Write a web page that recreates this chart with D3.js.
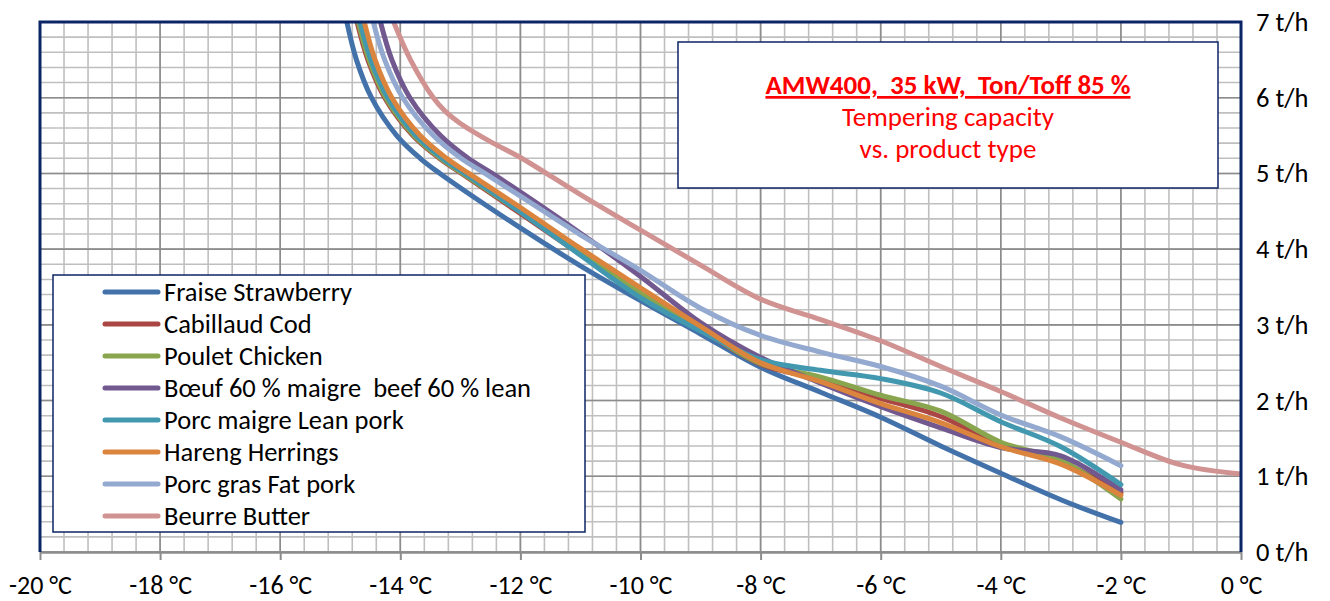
<!DOCTYPE html>
<html>
<head>
<meta charset="utf-8">
<script src="https://cdn.jsdelivr.net/npm/d3@7"></script>
<style>
  body { margin: 0; background: #fff; }
  svg { display: block; font-family: Carlito, Lato, sans-serif; }
  text { white-space: pre; }
</style>
</head>
<body>
<svg></svg>
<script>
// data: [temperature °C, capacity t/h]
var seriesNames = ["Fraise Strawberry", "Cabillaud Cod", "Poulet Chicken",
  "Bœuf 60 % maigre  beef 60 % lean", "Porc maigre Lean pork", "Hareng Herrings",
  "Porc gras Fat pork", "Beurre Butter"];
var seriesColors = ["#4372AA", "#AA4643", "#89A54E", "#71588F", "#4198AF", "#DB843D", "#93A9CF", "#D19392"];

var strawberry = [[-14.89, 7.0], [-14.73, 6.5], [-14.48, 6.0], [-14.06, 5.5], [-13.67, 5.2], [-13.34, 5.0],
  [-12, 4.28], [-11, 3.78], [-10, 3.32], [-9, 2.88], [-8, 2.44], [-7, 2.11], [-6, 1.78],
  [-5, 1.40], [-4, 1.04], [-3, 0.69], [-2, 0.39]];
var cod = [[-14.72, 7.0], [-14.54, 6.5], [-14.26, 6.0], [-13.79, 5.5], [-13.35, 5.2], [-12.98, 5.0],
  [-12, 4.47], [-11, 3.93], [-10, 3.40], [-9, 2.94], [-8, 2.48], [-7, 2.28], [-6, 2.03],
  [-5, 1.79], [-4, 1.41], [-3, 1.19], [-2, 0.78]];
var chicken = [[-14.70, 7.0], [-14.52, 6.5], [-14.24, 6.0], [-13.77, 5.5], [-13.33, 5.2], [-12.96, 5.0],
  [-12, 4.49], [-11, 3.95], [-10, 3.42], [-9, 2.95], [-8, 2.49], [-7, 2.31], [-6, 2.07],
  [-5, 1.86], [-4, 1.45], [-3, 1.21], [-2, 0.70]];
var beef = [[-14.33, 7.0], [-14.14, 6.5], [-13.84, 6.0], [-13.33, 5.5], [-12.87, 5.2], [-12.47, 5.0],
  [-11, 4.21], [-10, 3.64], [-9, 3.03], [-8, 2.57], [-7, 2.23], [-6, 1.92],
  [-5, 1.64], [-4, 1.38], [-3, 1.27], [-2, 0.82]];
var leanPork = [[-14.67, 7.0], [-14.49, 6.5], [-14.21, 6.0], [-13.74, 5.5], [-13.30, 5.2], [-12.93, 5.0],
  [-12, 4.49], [-11, 3.92], [-10, 3.36], [-9, 2.92], [-8, 2.54], [-7, 2.40], [-6, 2.29],
  [-5, 2.10], [-4, 1.72], [-3, 1.39], [-2, 0.89]];
var herrings = [[-14.60, 7.0], [-14.42, 6.5], [-14.14, 6.0], [-13.67, 5.5], [-13.23, 5.2], [-12.86, 5.0],
  [-12, 4.55], [-11, 4.01], [-10, 3.49], [-9, 2.98], [-8, 2.50], [-7, 2.25], [-6, 1.96],
  [-5, 1.71], [-4, 1.39], [-3, 1.16], [-2, 0.75]];
var fatPork = [[-14.45, 7.0], [-14.26, 6.5], [-13.96, 6.0], [-13.45, 5.5], [-12.99, 5.2], [-12.59, 5.0],
  [-12, 4.70], [-11, 4.19], [-10, 3.72], [-9, 3.22], [-8, 2.86], [-7, 2.64], [-6, 2.45],
  [-5, 2.19], [-4, 1.81], [-3, 1.52], [-2, 1.14]];
var butter = [[-14.11, 7.0], [-13.83, 6.5], [-13.45, 6.0], [-13.25, 5.82], [-13, 5.66], [-12.5, 5.42],
  [-12, 5.21], [-11, 4.72], [-10, 4.25], [-9, 3.79], [-8, 3.34], [-7, 3.07], [-6, 2.79], [-5, 2.45],
  [-4, 2.12], [-3, 1.77], [-2, 1.45], [-1, 1.15], [0, 1.03]];

var xTicks = [-20, -18, -16, -14, -12, -10, -8, -6, -4, -2, 0];
var xTickLabels = ["-20 °C", "-18 °C", "-16 °C", "-14 °C", "-12 °C", "-10 °C", "-8 °C", "-6 °C", "-4 °C", "-2 °C", "0 °C"];
var yTicks = [0, 1, 2, 3, 4, 5, 6, 7];
var yTickLabels = ["0 t/h", "1 t/h", "2 t/h", "3 t/h", "4 t/h", "5 t/h", "6 t/h", "7 t/h"];

var titleLines = ["AMW400,  35 kW,  Ton/Toff 85 %", "Tempering capacity", "vs. product type"];

var allSeries = [strawberry, cod, chicken, beef, leanPork, herrings, fatPork, butter];

// svg + scales (names avoid window.top etc.)
var svgWidth = 1330, svgHeight = 601;
var plotL = 40, plotR = 1241, plotT = 22, plotB = 552;
var svg = d3.select("svg").attr("width", svgWidth).attr("height", svgHeight);

var x = d3.scaleLinear().domain([-20, 0]).range([plotL, plotR]);
var y = d3.scaleLinear().domain([0, 7]).range([plotB, plotT]);

// grid, minor first then major
var grid = svg.append("g");
grid.selectAll("line.vminor")
  .data(d3.range(-20, 0.001, 0.4))
  .enter().append("line")
  .attr("x1", function (d) { return x(d); }).attr("x2", function (d) { return x(d); })
  .attr("y1", plotT).attr("y2", plotB)
  .attr("stroke", "#BFBFBF").attr("stroke-width", 1.6);
grid.selectAll("line.hminor")
  .data(d3.range(0, 7.001, 0.2))
  .enter().append("line")
  .attr("x1", plotL).attr("x2", plotR)
  .attr("y1", function (d) { return y(d); }).attr("y2", function (d) { return y(d); })
  .attr("stroke", "#BFBFBF").attr("stroke-width", 1.6);
grid.selectAll("line.vmajor")
  .data(xTicks)
  .enter().append("line")
  .attr("x1", function (d) { return x(d); }).attr("x2", function (d) { return x(d); })
  .attr("y1", plotT).attr("y2", plotB)
  .attr("stroke", "#8C8C8C").attr("stroke-width", 1.6);
grid.selectAll("line.hmajor")
  .data(yTicks)
  .enter().append("line")
  .attr("x1", plotL).attr("x2", plotR)
  .attr("y1", function (d) { return y(d); }).attr("y2", function (d) { return y(d); })
  .attr("stroke", "#8C8C8C").attr("stroke-width", 1.6);

// axes
var xAxis = svg.append("g")
  .attr("transform", "translate(0," + plotB + ")")
  .call(d3.axisBottom(x).tickValues(xTicks)
    .tickFormat(function (d, i) { return xTickLabels[i]; })
    .tickSize(8).tickPadding(16).tickSizeOuter(0));
xAxis.select(".domain").attr("stroke", "#8C8C8C").attr("stroke-width", 2.5);
xAxis.selectAll(".tick line").attr("stroke", "#8C8C8C").attr("stroke-width", 2);
xAxis.selectAll("text").attr("font-size", 26).attr("fill", "#000").attr("font-family", "Carlito, Lato, sans-serif");

var yAxis = svg.append("g")
  .attr("transform", "translate(" + plotR + ",0)")
  .call(d3.axisRight(y).tickValues(yTicks)
    .tickFormat(function (d, i) { return yTickLabels[i]; })
    .tickSize(0).tickPadding(15));
yAxis.select(".domain").remove();
yAxis.selectAll("text").attr("font-size", 26.5).attr("fill", "#000").attr("font-family", "Carlito, Lato, sans-serif");

// series lines clipped to plot area
svg.append("clipPath").attr("id", "plotclip")
  .append("rect").attr("x", plotL).attr("y", plotT)
  .attr("width", plotR - plotL).attr("height", plotB - plotT);

var line = d3.line()
  .x(function (d) { return x(d[0]); })
  .y(function (d) { return y(d[1]); })
  .curve(d3.curveCatmullRom.alpha(0.5));

svg.append("g").attr("clip-path", "url(#plotclip)")
  .selectAll("path")
  .data(allSeries)
  .enter().append("path")
  .attr("d", line)
  .attr("fill", "none")
  .attr("stroke", function (d, i) { return seriesColors[i]; })
  .attr("stroke-width", 5)
  .attr("stroke-linecap", "round")
  .attr("stroke-linejoin", "round");

// plot border: navy on left, top, right
svg.append("path")
  .attr("d", "M" + plotL + "," + plotB + "V" + plotT + "H" + plotR + "V" + plotB)
  .attr("fill", "none").attr("stroke", "#0B2466").attr("stroke-width", 3);

// title box
var tb = svg.append("g");
tb.append("rect").attr("x", 678).attr("y", 42).attr("width", 540).attr("height", 146)
  .attr("fill", "#fff").attr("stroke", "#0B2466").attr("stroke-width", 1.5);
tb.selectAll("text")
  .data(titleLines)
  .enter().append("text")
  .attr("x", 948)
  .attr("y", function (d, i) { return 94 + i * 32; })
  .attr("text-anchor", "middle")
  .attr("font-size", 27)
  .attr("font-weight", function (d, i) { return i === 0 ? "bold" : "normal"; })
  .attr("text-decoration", function (d, i) { return i === 0 ? "underline" : "none"; })
  .attr("fill", "#FF0000")
  .text(function (d) { return d; });

// legend
var lg = svg.append("g");
lg.append("rect").attr("x", 53).attr("y", 275).attr("width", 532).attr("height", 257)
  .attr("fill", "#fff").attr("stroke", "#0B2466").attr("stroke-width", 1.5);
var items = lg.selectAll("g.item")
  .data(seriesNames)
  .enter().append("g")
  .attr("transform", function (d, i) { return "translate(0," + (292 + i * 32) + ")"; });
items.append("line")
  .attr("x1", 105).attr("x2", 158).attr("y1", 0).attr("y2", 0)
  .attr("stroke", function (d, i) { return seriesColors[i]; })
  .attr("stroke-width", 5).attr("stroke-linecap", "round");
items.append("text")
  .attr("x", 164).attr("y", 0).attr("dy", "0.35em")
  .attr("font-size", 26.5).attr("fill", "#000")
  .text(function (d) { return d; });
</script>
</body>
</html>
